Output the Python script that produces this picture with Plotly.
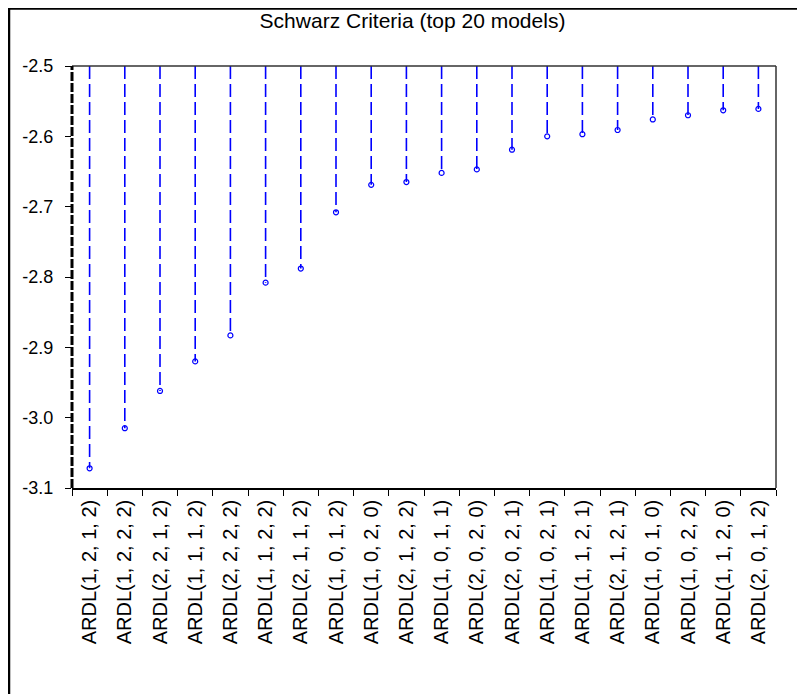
import plotly.graph_objects as go

models = [
    "ARDL(1, 2, 1, 2)", "ARDL(1, 2, 2, 2)", "ARDL(2, 2, 1, 2)", "ARDL(1, 1, 1, 2)",
    "ARDL(2, 2, 2, 2)", "ARDL(1, 1, 2, 2)", "ARDL(2, 1, 1, 2)", "ARDL(1, 0, 1, 2)",
    "ARDL(1, 0, 2, 0)", "ARDL(2, 1, 2, 2)", "ARDL(1, 0, 1, 1)", "ARDL(2, 0, 2, 0)",
    "ARDL(2, 0, 2, 1)", "ARDL(1, 0, 2, 1)", "ARDL(1, 1, 2, 1)", "ARDL(2, 1, 2, 1)",
    "ARDL(1, 0, 1, 0)", "ARDL(1, 0, 2, 2)", "ARDL(1, 1, 2, 0)", "ARDL(2, 0, 1, 2)",
]
schwarz = [
    -3.072, -3.015, -2.962, -2.920, -2.883, -2.808, -2.788, -2.708,
    -2.669, -2.665, -2.652, -2.647, -2.619, -2.600, -2.597, -2.591,
    -2.576, -2.570, -2.563, -2.561,
]
y_ticks = [-3.1, -3.0, -2.9, -2.8, -2.7, -2.6, -2.5]
y_tick_text = ["-3.1", "-3.0", "-2.9", "-2.8", "-2.7", "-2.6", "-2.5"]
y_top = -2.5
y_bottom = -3.1

BLUE = "#0000FF"
FONT = "Liberation Sans, Arial, sans-serif"

stem_x, stem_y = [], []
for m, v in zip(models, schwarz):
    stem_x += [m, m, None]
    stem_y += [y_top, v, None]

fig = go.Figure()
fig.add_trace(go.Scatter(
    x=stem_x, y=stem_y, mode="lines",
    line=dict(color=BLUE, width=1.6, dash="13px,5px"),
    hoverinfo="skip", showlegend=False, cliponaxis=False,
))
fig.add_trace(go.Scatter(
    x=models, y=schwarz, mode="markers",
    marker=dict(symbol="circle-open", size=5, color=BLUE, line=dict(width=1.2, color=BLUE)),
    showlegend=False, cliponaxis=False,
))

# page body adds an 8px offset; work in screen pixels and convert
OFF = 8
W, H = 805 - OFF, 694 - OFF
L, T = 72 - OFF, 66 - OFF
R = W - (776 - OFF)
B = H - (488 - OFF)
pw, ph = W - L - R, H - T - B

def px_x(p):
    return (p - OFF - L) / pw

def px_y(p):
    return (H - B - (p - OFF)) / ph

shapes = [
    # outer frame (left + top visible)
    dict(type="rect", xref="paper", yref="paper",
         x0=px_x(9), x1=px_x(840), y0=px_y(740), y1=px_y(8.5),
         line=dict(color="black", width=2.5), layer="above"),
    # top border of plot
    dict(type="line", xref="paper", yref="paper", x0=0, x1=1, y0=1, y1=1,
         line=dict(color="#333333", width=1.5), layer="above"),
    # right border of plot
    dict(type="line", xref="paper", yref="paper", x0=1, x1=1, y0=0, y1=1,
         line=dict(color="#333333", width=1.5), layer="above"),
    # left dashed black axis
    dict(type="line", xref="paper", yref="paper", x0=0, x1=0, y0=0, y1=1,
         line=dict(color="black", width=3, dash="9px,2px"), layer="above"),
]

fig.update_layout(
    width=W, height=H,
    margin=dict(l=L, r=R, t=T, b=B),
    paper_bgcolor="white", plot_bgcolor="white",
    font=dict(family=FONT, color="black"),
    title=dict(text="Schwarz Criteria (top 20 models)", x=px_x(412.5), xref="paper",
               xanchor="center", y=1 - (21 - OFF) / H, yref="container", yanchor="middle",
               font=dict(size=21, family=FONT, color="black")),
    shapes=shapes,
    xaxis=dict(
        type="category", categoryorder="array", categoryarray=models,
        range=[-0.5, len(models) - 0.5],
        showgrid=False, zeroline=False,
        showline=True, linecolor="black", linewidth=1.5,
        ticks="outside", ticklen=6, tickcolor="black", tickwidth=1,
        tickson="boundaries", tickangle=-90,
        tickfont=dict(size=20, family=FONT, color="black"),
        ticklabelstandoff=2,
    ),
    yaxis=dict(
        range=[y_bottom, y_top], tickvals=y_ticks, ticktext=y_tick_text,
        showgrid=False, zeroline=False, showline=False,
        ticks="outside", ticklen=6, tickcolor="black", tickwidth=1,
        tickfont=dict(size=18, family=FONT, color="black"),
        ticklabelstandoff=8,
    ),
)

fig.write_html("out.html")
